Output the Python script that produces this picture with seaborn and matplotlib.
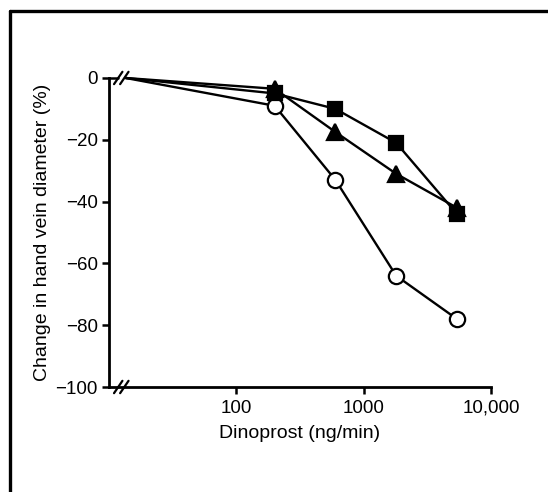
import matplotlib
matplotlib.use("Agg")
import matplotlib.pyplot as plt
import seaborn as sns
import pandas as pd
from matplotlib.lines import Line2D

sns.set_theme(style="white")
plt.rcParams['font.family'] = ['Liberation Sans', 'DejaVu Sans']

# ---- data ----
baseline_x = 13.5          # position where the zero-dose baseline is drawn (axis break)
doses = [200, 600, 1800, 5400]
circle_vals = [-9, -33, -64, -78]
square_vals = [-5, -10, -21, -44]
triangle_vals = [-3.5, -17.5, -31, -42]
xtick_vals = [100, 1000, 10000]
xtick_labels = ["100", "1000", "10,000"]
ytick_vals = [0, -20, -40, -60, -80, -100]
ytick_labels = ["0", "\u221220", "\u221240", "\u221260", "\u221280", "\u2212100"]

series = {
    "circle": circle_vals,
    "square": square_vals,
    "triangle": triangle_vals,
}
rows = []
for name, vals in series.items():
    rows.append({"series": name, "dose": baseline_x, "change": 0.0})
    for d, v in zip(doses, vals):
        rows.append({"series": name, "dose": d, "change": v})
df = pd.DataFrame(rows)

styles = {
    "circle": dict(marker="o", markerfacecolor="white", markersize=11),
    "square": dict(marker="s", markerfacecolor="black", markersize=10),
    "triangle": dict(marker="^", markerfacecolor="black", markersize=11),
}

fig = plt.figure(figsize=(5.48, 4.92), dpi=100)
ax = fig.add_axes([0.199, 0.2134, 0.697, 0.6281])

for name in ["circle", "square", "triangle"]:
    sub = df[df["series"] == name]
    sns.lineplot(data=sub, x="dose", y="change", ax=ax, color="black",
                 linewidth=1.7, markeredgecolor="black", markeredgewidth=1.6,
                 markevery=[1, 2, 3, 4], clip_on=False, estimator=None,
                 sort=False, **styles[name])

ax.set_xscale("log")
ax.set_xlim(10, 10000)
ax.set_ylim(-100, 0)
ax.set_xticks(xtick_vals)
ax.set_xticklabels(xtick_labels)
ax.xaxis.set_minor_locator(matplotlib.ticker.NullLocator())
ax.set_yticks(ytick_vals)
ax.set_yticklabels(ytick_labels)

for s in ["top", "right"]:
    ax.spines[s].set_visible(False)
for s in ["left", "bottom"]:
    ax.spines[s].set_linewidth(2)
    ax.spines[s].set_color("black")

ax.tick_params(axis="both", direction="out", length=5, width=1.8, color="black",
               labelsize=13.5, labelcolor="black", pad=3)
ax.tick_params(axis="x", pad=4)
ax.tick_params(left=True, bottom=True)

ax.set_xlabel("Dinoprost (ng/min)", fontsize=14, color="black", labelpad=6)
ax.set_ylabel("Change in hand vein diameter (%)", fontsize=14, color="black", labelpad=3)

# axis break marks and the short zero-level segment
ax.plot([10, 11.8], [0, 0], color="black", lw=1.8, clip_on=False)
for yb in [0.0, 1.0]:
    for xc in [0.024, 0.040]:
        ax.plot([xc - 0.011, xc + 0.011], [yb - 0.02, yb + 0.02],
                transform=ax.transAxes, color="black", lw=1.6, clip_on=False)

# scanned frame: left and top edges
fig.add_artist(Line2D([9.5 / 548, 9.5 / 548], [0, 1 - 10.5 / 492],
                      transform=fig.transFigure, color="black", lw=2.4))
fig.add_artist(Line2D([9.5 / 548, 1], [1 - 10.5 / 492, 1 - 10.5 / 492],
                      transform=fig.transFigure, color="black", lw=2.4))

fig.savefig("out.png", dpi=100, facecolor="white")
